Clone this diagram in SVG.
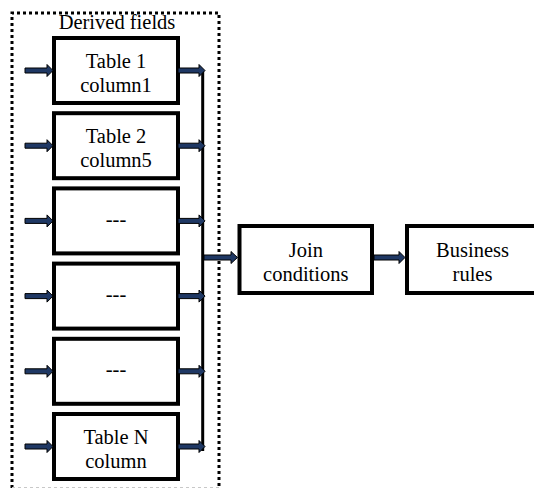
<svg xmlns="http://www.w3.org/2000/svg" width="534" height="488" viewBox="0 0 534 488">
<style>
.box{fill:#fff;stroke:#000;stroke-width:4}
.t{font-family:"Liberation Serif","Times New Roman",serif;font-size:20.5px;fill:#000;text-anchor:middle}
.arr{fill:#1F3864;stroke:#000;stroke-width:1}
</style>
<rect width="534" height="488" fill="#fff"/>
<g id="group-derived">
<path d="M12,488 L12,13 L219,13 L219,488" fill="none" stroke="#000" stroke-width="3" stroke-dasharray="3 3"/>
<line x1="12" y1="487.5" x2="219" y2="487.5" stroke="#c8c8c8" stroke-width="1" stroke-dasharray="3 3"/>
<text class="t" x="117" y="29">Derived fields</text>
</g>
<g id="node-t1"><rect class="box" x="54" y="38" width="124" height="65"/><text class="t" x="116" y="68">Table 1</text><text class="t" x="116" y="92">column1</text></g>
<g id="node-t2"><rect class="box" x="54" y="113.2" width="124" height="65"/><text class="t" x="116" y="143.2">Table 2</text><text class="t" x="116" y="167.2">column5</text></g>
<g id="node-d1"><rect class="box" x="54" y="188.4" width="124" height="65"/><text class="t" x="116" y="226">---</text></g>
<g id="node-d2"><rect class="box" x="54" y="263.6" width="124" height="65"/><text class="t" x="116" y="301.2">---</text></g>
<g id="node-d3"><rect class="box" x="54" y="338.8" width="124" height="65"/><text class="t" x="116" y="376.4">---</text></g>
<g id="node-tn"><rect class="box" x="54" y="414" width="124" height="65"/><text class="t" x="116" y="444">Table N</text><text class="t" x="116" y="468">column</text></g>
<g id="node-join"><rect class="box" x="239.5" y="226" width="132.5" height="67"/><text class="t" x="305.8" y="257">Join</text><text class="t" x="305.8" y="281">conditions</text></g>
<g id="node-rules"><rect class="box" x="407" y="226" width="140" height="67"/><text class="t" x="472.5" y="257">Business</text><text class="t" x="472.5" y="281">rules</text></g>
<g id="connectors">
<line x1="202.7" y1="70" x2="202.7" y2="451" stroke="#000" stroke-width="3"/>
<path class="arr" d="M25,68 H47 V64.5 L53,70.5 L47,76.5 V73 H25 Z"/>
<path class="arr" d="M25,143.2 H47 V139.7 L53,145.7 L47,151.7 V148.2 H25 Z"/>
<path class="arr" d="M25,218.4 H47 V214.9 L53,220.9 L47,226.9 V223.4 H25 Z"/>
<path class="arr" d="M25,293.6 H47 V290.1 L53,296.1 L47,302.1 V298.6 H25 Z"/>
<path class="arr" d="M25,368.8 H47 V365.3 L53,371.3 L47,377.3 V373.8 H25 Z"/>
<path class="arr" d="M25,444 H47 V440.5 L53,446.5 L47,452.5 V449 H25 Z"/>
<path class="arr" d="M178,68 H199 V64.5 L205,70.5 L199,76.5 V73 H178 Z"/>
<path class="arr" d="M178,143.2 H199 V139.7 L205,145.7 L199,151.7 V148.2 H178 Z"/>
<path class="arr" d="M178,218.4 H199 V214.9 L205,220.9 L199,226.9 V223.4 H178 Z"/>
<path class="arr" d="M178,293.6 H199 V290.1 L205,296.1 L199,302.1 V298.6 H178 Z"/>
<path class="arr" d="M178,368.8 H199 V365.3 L205,371.3 L199,377.3 V373.8 H178 Z"/>
<path class="arr" d="M178,444 H199 V440.5 L205,446.5 L199,452.5 V449 H178 Z"/>
<path class="arr" d="M204,255 H231 V251.5 L237.5,257.5 L231,263.5 V260 H204 Z"/>
<path class="arr" d="M374,255 H399 V251.5 L405,257.5 L399,263.5 V260 H374 Z"/>
</g>
</svg>
